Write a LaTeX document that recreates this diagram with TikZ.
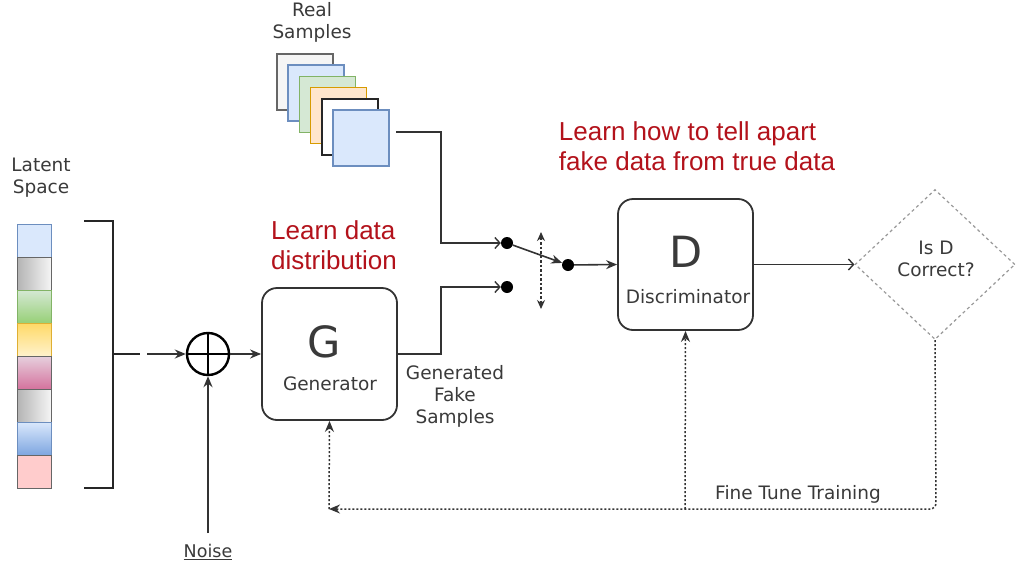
\documentclass[tikz,border=0pt]{standalone}
\usepackage{fontspec}
\setmainfont{DejaVu Sans}
\newfontfamily\redfont{Liberation Sans}
\usetikzlibrary{arrows.meta,shapes.geometric}
\definecolor{txt}{HTML}{3A3A3A}
\definecolor{ln}{HTML}{333333}
\definecolor{redt}{HTML}{B3121B}
\definecolor{bluef}{HTML}{DAE8FC}
\definecolor{blueg}{HTML}{7EA6E0}
\definecolor{blued}{HTML}{6C8EBF}
\definecolor{greenf}{HTML}{D5E8D4}
\definecolor{greeng}{HTML}{97D077}
\definecolor{greend}{HTML}{82B366}
\definecolor{orangef}{HTML}{FFE6CC}
\definecolor{oranged}{HTML}{D79B00}
\definecolor{yellowg}{HTML}{FFD966}
\definecolor{yellowf}{HTML}{FFF2CC}
\definecolor{pinkf}{HTML}{E6D0DE}
\definecolor{pinkg}{HTML}{D5739D}
\definecolor{grayf}{HTML}{F5F5F5}
\definecolor{grayg}{HTML}{B3B3B3}
\definecolor{grayd}{HTML}{666666}
\definecolor{redf}{HTML}{FFCCCC}
\begin{document}
\begin{tikzpicture}[x=1pt,y=-1pt,
  lbl/.style={text=txt,font=\fontsize{18.5}{22}\selectfont,align=center,inner sep=0pt},
  redlbl/.style={text=redt,font=\redfont\fontsize{26}{30}\selectfont,align=left,inner sep=0pt},
  big/.style={text=txt,font=\fontsize{43}{43}\selectfont,inner sep=0pt},
  cell/.style={draw=grayd,line width=1pt,minimum width=34pt,minimum height=33pt,inner sep=0pt},
  sq/.style={line width=1.5pt,minimum width=56pt,minimum height=56pt,inner sep=0pt},
  box/.style={draw=ln,line width=1.8pt,rounded corners=15pt,minimum width=135pt,minimum height=132pt,inner sep=0pt},
  dotn/.style={circle,fill=black,inner sep=0pt,minimum size=12pt},
  conn/.style={draw=ln,line width=1.6pt},
  fa/.style={-{Stealth[length=11pt,width=9pt]}},
  oa/.style={-{Straight Barb[length=5pt,width=11pt,line width=1.4pt]}},
  fb/.style={draw=ln,line width=1.5pt,dash pattern=on 2pt off 2pt},
]
\useasboundingbox (0,0) rectangle (1024,570);
\fill[white] (0,0) rectangle (1024,570);

% Latent space
\node[lbl] (lsl) at (41,178) {Latent\\Space};
\node[cell,fill=bluef,draw=blued] (c1) at (34,240.5) {};
\node[cell,left color=grayg,right color=grayf] (c2) at (34,273.5) {};
\node[cell,top color=greenf,bottom color=greeng,draw=greend] (c3) at (34,306.5) {};
\node[cell,top color=yellowg,bottom color=yellowf,draw=oranged!80] (c4) at (34,339.5) {};
\node[cell,top color=pinkf,bottom color=pinkg,draw=grayd] (c5) at (34,372.5) {};
\node[cell,left color=grayg,right color=grayf] (c6) at (34,405.5) {};
\node[cell,top color=bluef,bottom color=blueg,draw=blued] (c7) at (34,438.5) {};
\node[cell,fill=redf,draw=grayd] (c8) at (34,471.5) {};

% bracket
\coordinate (bt) at (84,221);
\coordinate (bb) at (84,488);
\coordinate (bm) at (113,354);
\coordinate (bs) at (140,354);
\coordinate (ba) at (147,354);
\draw[line width=2.4pt,draw=black!85] (bt) -- (113,221) -- (113,488) -- (bb);
\draw[line width=2.4pt,draw=black!85] (bm) -- (bs);

% sum
\node[circle,draw=black,line width=2.4pt,minimum size=42pt,inner sep=0pt] (sum) at (208,354) {};
\draw[line width=2.4pt] (sum.north) -- (sum.south) (sum.west) -- (sum.east);
\draw[conn,fa] (ba) -- (sum.west);

% noise
\node[lbl,font=\fontsize{17.5}{20}\selectfont] (noise) at (208,552) {\underline{Noise}};
\coordinate (ns) at (208,533);
\draw[conn,fa] (ns) -- (sum.south);

% Generator
\node[box] (G) at (329.5,354) {};
\node[big] (Gl) at (324,342) {G};
\node[lbl] (Gt) at (330,384) {Generator};
\draw[conn,fa] (sum.east) -- (G.west);

\node[redlbl] (rl1) at (334,245) {Learn data\\distribution};

\node[lbl] (gfs) at (455,396) {Generated\\Fake\\Samples};

% real samples
\node[lbl] (rs) at (312,22) {Real\\Samples};
\node[sq,fill=grayf,draw=grayd] (s1) at (305,82) {};
\node[sq,fill=bluef,draw=blued] (s2) at (316.2,93.2) {};
\node[sq,fill=greenf,draw=greend] (s3) at (327.4,104.4) {};
\node[sq,fill=orangef,draw=oranged] (s4) at (338.6,115.6) {};
\node[sq,fill=white,draw=black!85] (s5) at (349.8,126.8) {};
\node[sq,fill=bluef,draw=blued] (s6) at (361,138) {};

% switch
\node[dotn] (d1) at (507,243) {};
\node[dotn] (d2) at (507,287) {};
\node[dotn] (d3) at (568,265) {};
\coordinate (ro) at (396,132);
\draw[conn,oa] (ro) -- (441,132) -- (441,243) -- (d1.west);
\draw[conn,oa] (G.east) -- (441,354) -- (441,287) -- (d2.west);
\draw[conn,fa] (d1) -- (d3);
\coordinate (sw1) at (541,232);
\coordinate (sw2) at (541,309);
\draw[draw=ln,line width=1.4pt,dash pattern=on 2.5pt off 2pt,{Stealth[length=9pt,width=8pt]}-{Stealth[length=9pt,width=8pt]}] (sw1) -- (sw2);

% Discriminator
\node[box,minimum height=131pt] (D) at (685.5,264.5) {};
\node[big] (Dl) at (686,252) {D};
\node[lbl] (Dt) at (688,297) {Discriminator};
\draw[conn,fa] (d3) -- (D.west);

\node[redlbl] (rl2) at (697,146) {Learn how to tell apart\\fake data from true data};

% diamond
\node[diamond,draw=gray!80,line width=1.2pt,dash pattern=on 3pt off 3pt,minimum width=160pt,minimum height=150pt,inner sep=0pt] (dia) at (935,264.5) {};
\node[lbl] (dial) at (936,259) {Is D\\Correct?};
\draw[conn,oa] (D.east) -- (dia.west);

% feedback
\coordinate (fl) at (329,509);
\coordinate (fm) at (685,509);
\draw[fb,rounded corners=6pt,fa] (dia.south) -- (936,509) -- (fl);
\draw[fb,fa] (fl) -- (G.south);
\draw[fb,fa] (fm) -- (D.south);
\node[lbl] (ftt) at (798,494) {Fine Tune Training};
\end{tikzpicture}
\end{document}
